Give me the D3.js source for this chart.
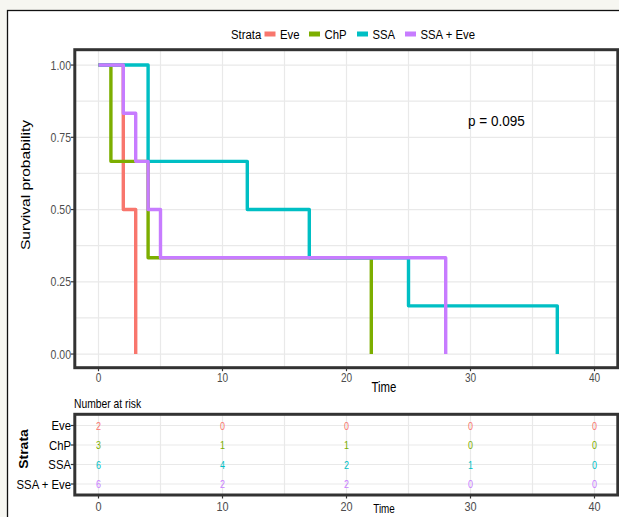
<!DOCTYPE html>
<html><head><meta charset="utf-8">
<script src="https://cdn.jsdelivr.net/npm/d3@7"></script>
<style>
html,body{margin:0;padding:0;background:#f6f6f1;}
svg{display:block;}
text{font-family:"Liberation Sans",Arial,sans-serif;}
</style></head>
<body>
<script>
// ---------- data ----------
const strata = ["Eve", "ChP", "SSA", "SSA + Eve"];
const colors = ["#F8766D", "#7CAE00", "#00BFC4", "#C77CFF"];
const eveTimes = [0, 2, 3];
const eveSurv = [1, 0.5, 0];
const chpTimes = [0, 1, 4, 22];
const chpSurv = [1, 0.6667, 0.3333, 0];
const ssaTimes = [0, 4, 12, 17, 25, 37];
const ssaSurv = [1, 0.6667, 0.5, 0.3333, 0.1667, 0];
const ssaEveTimes = [0, 2, 3, 4, 5, 28];
const ssaEveSurv = [1, 0.8333, 0.6667, 0.5, 0.3333, 0];
const riskTimes = [0, 10, 20, 30, 40];
const riskEve = [2, 0, 0, 0, 0];
const riskChP = [3, 1, 1, 0, 0];
const riskSSA = [6, 4, 2, 1, 0];
const riskSSAEve = [6, 2, 2, 0, 0];
const xTicks = [0, 10, 20, 30, 40];
const xMinor = [5, 15, 25, 35];
const yTicks = [0, 0.25, 0.5, 0.75, 1];
const yMinor = [0.125, 0.375, 0.625, 0.875];
const pValueLabel = "p = 0.095";

const curves = [
  {name: strata[0], t: eveTimes, s: eveSurv},
  {name: strata[1], t: chpTimes, s: chpSurv},
  {name: strata[2], t: ssaTimes, s: ssaSurv},
  {name: strata[3], t: ssaEveTimes, s: ssaEveSurv}
];
const risks = [riskEve, riskChP, riskSSA, riskSSAEve];

// ---------- layout ----------
const W = 619, H = 517;
const SX = 0.84; // horizontal text squish seen in reference
const svg = d3.select("body").append("svg").attr("width", W).attr("height", H);

svg.append("rect").attr("x", 0).attr("y", 0).attr("width", W).attr("height", H).attr("fill", "#f6f6f1");
svg.append("rect").attr("x", 7.5).attr("y", 10.5).attr("width", W + 10).attr("height", H + 10)
  .attr("fill", "#ffffff").attr("stroke", "#111").attr("stroke-width", 1.3);

const x = d3.scaleLinear().domain([-2, 42]).range([73.7, 619.3]);
const y = d3.scaleLinear().domain([-0.05, 1.05]).range([368.5, 50.6]);
const P = {l: 74.8, r: 617.8, t: 49.7, b: 367.7};

function txt(g, px, py, s, o) {
  o = o || {};
  const sx = o.sx == null ? SX : o.sx;
  let tr = `translate(${px},${py}) scale(${sx},1)`;
  if (o.rot) tr += ` rotate(${o.rot})`;
  return g.append("text").attr("transform", tr)
    .attr("text-anchor", o.anchor || "start")
    .attr("font-size", o.size || 12)
    .attr("font-weight", o.weight || "normal")
    .attr("fill", o.fill || "#000")
    .attr("dy", o.dy || "0")
    .text(s);
}

const gridCol = "#e9e9e9";
// ---------- main panel ----------
const main = svg.append("g");
xMinor.concat(xTicks).forEach(t => {
  main.append("line").attr("x1", x(t)).attr("x2", x(t)).attr("y1", P.t).attr("y2", P.b)
    .attr("stroke", gridCol).attr("stroke-width", 1.2);
});
yMinor.concat(yTicks).forEach(v => {
  main.append("line").attr("x1", P.l).attr("x2", P.r).attr("y1", y(v)).attr("y2", y(v))
    .attr("stroke", gridCol).attr("stroke-width", 1.2);
});

const line = d3.line().x(d => x(d[0])).y(d => y(d[1])).curve(d3.curveStepAfter);
curves.forEach((c, i) => {
  const pts = c.t.map((t, j) => [t, c.s[j]]);
  main.append("path").attr("d", line(pts)).attr("fill", "none")
    .attr("stroke", colors[i]).attr("stroke-width", 3.4).attr("stroke-linejoin", "round");
});

main.append("rect").attr("x", P.l).attr("y", P.t).attr("width", P.r - P.l).attr("height", P.b - P.t)
  .attr("fill", "none").attr("stroke", "#333").attr("stroke-width", 3);

// axes ticks & labels
yTicks.forEach(v => {
  main.append("line").attr("x1", P.l - 4).attr("x2", P.l).attr("y1", y(v)).attr("y2", y(v))
    .attr("stroke", "#333").attr("stroke-width", 1.2);
  txt(main, 71, y(v), d3.format(".2f")(v), {anchor: "end", size: 12.5, fill: "#4d4d4d", dy: "0.36em"});
});
xTicks.forEach(t => {
  main.append("line").attr("x1", x(t)).attr("x2", x(t)).attr("y1", P.b).attr("y2", P.b + 3.5)
    .attr("stroke", "#333").attr("stroke-width", 1.2);
  txt(main, x(t), 382, String(t), {anchor: "middle", size: 12, fill: "#4d4d4d"});
});
txt(main, 384, 392, "Time", {anchor: "middle", size: 15, sx: 0.76});
txt(main, 30, 185, "Survival probability", {anchor: "middle", size: 15.5, rot: -90, sx: 0.82});
txt(main, 468, 126, pValueLabel, {size: 13.8, sx: 0.98});

// ---------- legend ----------
const leg = svg.append("g");
const legY = 34;
txt(leg, 231, legY, "Strata", {size: 13.5, dy: "0.36em"});
const keyX = [264.5, 309, 357, 405];
strata.forEach((s, i) => {
  leg.append("rect").attr("x", keyX[i]).attr("y", legY - 2.5).attr("width", 11).attr("height", 5)
    .attr("fill", colors[i]);
  txt(leg, keyX[i] + 15.5, legY, s, {size: 13.5, dy: "0.36em"});
});

// ---------- risk table ----------
const R = {l: 74.8, r: 617.8, t: 414.3, b: 495};
const yr = d3.scalePoint().domain(strata).range([425.5, 484]);
const risk = svg.append("g");
txt(risk, 74, 408, "Number at risk", {size: 12, sx: 0.86});
xMinor.concat(xTicks).forEach(t => {
  risk.append("line").attr("x1", x(t)).attr("x2", x(t)).attr("y1", R.t).attr("y2", R.b)
    .attr("stroke", gridCol).attr("stroke-width", 1.2);
});
strata.forEach(s => {
  risk.append("line").attr("x1", R.l).attr("x2", R.r).attr("y1", yr(s)).attr("y2", yr(s))
    .attr("stroke", gridCol).attr("stroke-width", 1.2);
});
strata.forEach((s, i) => {
  riskTimes.forEach((t, j) => {
    txt(risk, x(t), yr(s), String(risks[i][j]), {anchor: "middle", size: 11.5, fill: colors[i], dy: "0.36em", sx: 0.78});
  });
});
risk.append("rect").attr("x", R.l).attr("y", R.t).attr("width", R.r - R.l).attr("height", R.b - R.t)
  .attr("fill", "none").attr("stroke", "#333").attr("stroke-width", 3);
strata.forEach(s => {
  risk.append("line").attr("x1", R.l - 4).attr("x2", R.l).attr("y1", yr(s)).attr("y2", yr(s))
    .attr("stroke", "#333").attr("stroke-width", 1.2);
  txt(risk, 71, yr(s), s, {anchor: "end", size: 13.5, dy: "0.36em"});
});
xTicks.forEach(t => {
  risk.append("line").attr("x1", x(t)).attr("x2", x(t)).attr("y1", R.b).attr("y2", R.b + 3.5)
    .attr("stroke", "#333").attr("stroke-width", 1.2);
  txt(risk, x(t), 510.5, String(t), {anchor: "middle", size: 13, fill: "#4d4d4d"});
});
txt(risk, 384, 513, "Time", {anchor: "middle", size: 13, sx: 0.76});
txt(risk, 28, 449, "Strata", {anchor: "middle", size: 14, weight: "bold", rot: -90, sx: 0.85});
</script>
</body></html>
